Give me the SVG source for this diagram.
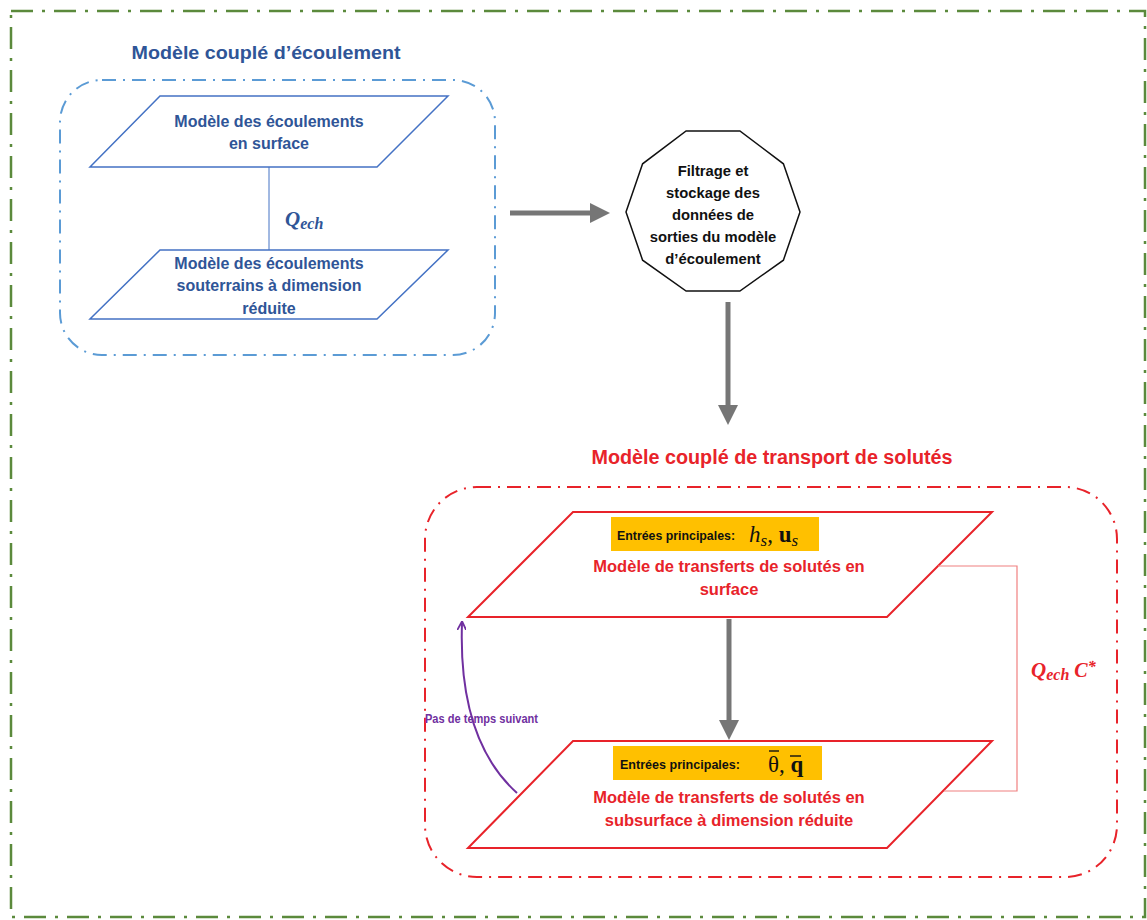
<svg xmlns="http://www.w3.org/2000/svg" width="1147" height="920" viewBox="0 0 1147 920">
<style>
.sans{font-family:"Liberation Sans",Arial,sans-serif;font-weight:bold}
.math{font-family:"Liberation Serif","Times New Roman",serif}
.blue{fill:#2f5597}
.red{fill:#e8232a}
.blk{fill:#111}
.para-b{fill:#fff;stroke:#4472c4;stroke-width:1.5}
.para-r{fill:#fff;stroke:#e8232a;stroke-width:2}
.gray{stroke:#767676;stroke-width:5;fill:none}
</style>
<defs>
<marker id="gArrow" viewBox="0 0 10 10" refX="2" refY="5" markerWidth="4" markerHeight="4" orient="auto" markerUnits="strokeWidth">
<path d="M0,0 L10,5 L0,10 z" fill="#767676"/>
</marker>
<marker id="pArrow" viewBox="0 0 10 10" refX="8" refY="5" markerWidth="9" markerHeight="9" orient="auto" markerUnits="userSpaceOnUse">
<path d="M0,0 L10,5 L0,10" fill="none" stroke="#7030a0" stroke-width="2"/>
</marker>
</defs>
<rect width="1147" height="920" fill="#fff"/>

<g id="frame">
<rect x="11" y="11" width="1134" height="906" fill="none" stroke="#5b8a3c" stroke-width="2.5" stroke-dasharray="22 9 3 9"/>
</g>

<g id="flow-group">
<rect x="60" y="80" width="435" height="275" rx="42" fill="none" stroke="#5b9bd5" stroke-width="2" stroke-dasharray="14 7 2 7"/>
<text class="sans blue" x="266" y="59" font-size="19" text-anchor="middle" textLength="269" lengthAdjust="spacingAndGlyphs">Modèle couplé d’écoulement</text>
</g>

<g id="surface-flow">
<polygon class="para-b" points="160,96 448,96 377,167 90,167"/>
<text class="sans blue" font-size="16" text-anchor="middle"><tspan x="269" y="127">Modèle des écoulements</tspan><tspan x="269" y="149">en surface</tspan></text>
</g>

<g id="subsurface-flow">
<polygon class="para-b" points="160,250 448,250 377,319 90,319"/>
<text class="sans blue" font-size="16" text-anchor="middle"><tspan x="269" y="269">Modèle des écoulements</tspan><tspan x="269" y="291">souterrains à dimension</tspan><tspan x="269" y="314">réduite</tspan></text>
</g>

<g id="filter">
<polygon points="800,212 783.4,163.8 739.9,131 686.1,131 642.6,163.8 626,212 642.6,260.2 686.1,291 739.9,291 783.4,260.2" fill="#fff" stroke="#111" stroke-width="1.5"/>
<text class="sans blk" font-size="14.8" text-anchor="middle"><tspan x="713" y="176">Filtrage et</tspan><tspan x="713" y="198">stockage des</tspan><tspan x="713" y="220">données de</tspan><tspan x="713" y="242">sorties du modèle</tspan><tspan x="713" y="264">d’écoulement</tspan></text>
</g>

<g id="transport-group">
<rect x="425" y="487" width="692" height="390" rx="52" fill="none" stroke="#e8232a" stroke-width="2" stroke-dasharray="14 7 2 7"/>
<text class="sans red" x="772" y="464" font-size="19.5" text-anchor="middle" textLength="361" lengthAdjust="spacingAndGlyphs">Modèle couplé de transport de solutés</text>
</g>

<g id="surface-transport">
<polygon class="para-r" points="573,512 992,512 887,617 468,617"/>
<rect x="611" y="517" width="208" height="34" fill="#ffc000"/>
<text class="sans blk" x="617" y="540" font-size="13.5" textLength="118" lengthAdjust="spacingAndGlyphs">Entrées principales:</text>
<text class="math blk" x="749" y="542" font-size="23"><tspan font-style="italic">h</tspan><tspan font-style="italic" font-size="17" dy="4">s</tspan><tspan dy="-4">, </tspan><tspan font-weight="bold">u</tspan><tspan font-style="italic" font-size="17" dy="4">s</tspan></text>
<text class="sans red" font-size="16.5" text-anchor="middle"><tspan x="729" y="572">Modèle de transferts de solutés en</tspan><tspan x="729" y="595">surface</tspan></text>
</g>

<g id="subsurface-transport">
<polygon class="para-r" points="573,741 992,741 887,848 468,848"/>
<rect x="613" y="746" width="209" height="34" fill="#ffc000"/>
<text class="sans blk" x="620" y="769" font-size="13.5" textLength="120" lengthAdjust="spacingAndGlyphs">Entrées principales:</text>
<text class="math blk" x="768" y="772" font-size="23">θ, <tspan font-weight="bold">q</tspan></text>
<line x1="769" y1="751" x2="779" y2="751" stroke="#111" stroke-width="1.4"/>
<line x1="790" y1="756" x2="801" y2="756" stroke="#111" stroke-width="1.4"/>
<text class="sans red" font-size="16.5" text-anchor="middle"><tspan x="729" y="803">Modèle de transferts de solutés en</tspan><tspan x="729" y="826">subsurface à dimension réduite</tspan></text>
</g>

<g id="connectors">
<line x1="269" y1="167" x2="269" y2="250" stroke="#4472c4" stroke-width="1"/>
<text class="math blue" x="285" y="226" font-size="21" font-weight="bold" font-style="italic">Q<tspan font-size="16" dy="3">ech</tspan></text>
<line class="gray" x1="510" y1="213" x2="594" y2="213" marker-end="url(#gArrow)"/>
<line class="gray" x1="728" y1="302" x2="728" y2="409" marker-end="url(#gArrow)"/>
<line class="gray" x1="729" y1="619" x2="729" y2="724" marker-end="url(#gArrow)"/>
<polyline points="938,566 1017,566 1017,791 944,791" fill="none" stroke="#f08080" stroke-width="1.2"/>
<text class="math red" x="1031" y="677" font-size="21" font-weight="bold" font-style="italic">Q<tspan font-size="16" dy="3">ech</tspan><tspan font-size="20" dy="-3"> C</tspan><tspan font-size="16" dy="-5">*</tspan></text>
<path d="M517,793 Q458,740 462,623" fill="none" stroke="#7030a0" stroke-width="2" marker-end="url(#pArrow)"/>
<text class="sans" x="425" y="723" font-size="12" fill="#7030a0" textLength="113" lengthAdjust="spacingAndGlyphs">Pas de temps suivant</text>
</g>
</svg>
